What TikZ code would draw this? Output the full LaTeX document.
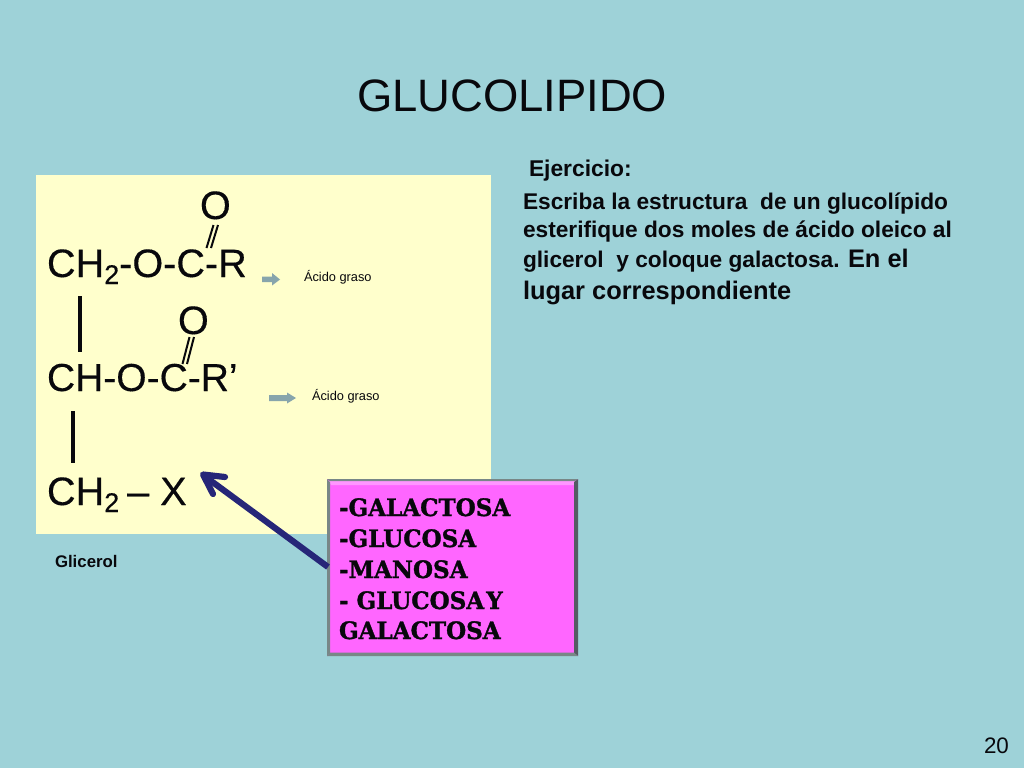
\documentclass[tikz,border=0pt]{standalone}
\usepackage{fontspec}
\setmainfont{Liberation Sans}
\newfontfamily\chemfont[FakeBold=0.35]{Liberation Sans}
\newfontfamily\slabfont[BoldFont={DejaVu Serif Bold},BoldFeatures={FakeStretch=0.96,FakeBold=1.3}]{DejaVu Serif}
\definecolor{bgteal}{RGB}{158,210,216}
\definecolor{cream}{RGB}{255,255,204}
\definecolor{pinkbox}{RGB}{255,102,255}
\definecolor{pinklight}{RGB}{255,150,255}
\definecolor{pinkdark}{RGB}{85,90,100}
\definecolor{pinkgrey}{RGB}{120,135,135}
\definecolor{navyarrow}{RGB}{38,38,120}
\definecolor{greyarrow}{RGB}{135,165,172}
\definecolor{inktext}{RGB}{8,8,12}
\tikzset{
  x=1pt,y=-1pt,
  txt/.style={anchor=base west,inner sep=0pt,outer sep=0pt,text=inktext},
  chem/.style={txt,font=\fontsize{39.6}{40}\selectfont\chemfont},
  tiny/.style={txt,font=\fontsize{12.8}{13}\selectfont},
  exer/.style={txt,font=\fontsize{22.7}{23}\selectfont\bfseries},
  big/.style={txt,font=\fontsize{25.4}{26}\selectfont\bfseries},
  sug/.style={txt,font=\fontsize{24}{24}\selectfont\slabfont\bfseries},
  bond/.style={line width=3.2pt,draw=inktext},
  minor/.style={line width=2pt,draw=inktext},
  grarrow/.style={draw=none,fill=greyarrow},
}
\newcommand{\subtwo}{\raisebox{-7pt}{\fontsize{27}{27}\selectfont 2}}
\begin{document}
\begin{tikzpicture}
\useasboundingbox (0,0) rectangle (1024,768);
\fill[bgteal] (0,0) rectangle (1024,768);
\fill[cream] (36,175) rectangle (491,534);
% title
\node[txt,font=\fontsize{45.4}{45}\selectfont] (title) at (357,111) {GLUCOLIPIDO};
% chem
\node[chem] (o1) at (200,219) {O};
\node[chem] (l1) at (47,277) {CH\subtwo-O-C-R};
\node[chem] (o2) at (178,334) {O};
\node[chem,font=\fontsize{39}{40}\selectfont\chemfont] (l2) at (47,391) {CH-O-C-R’};
\node[chem] (l3) at (47,505) {CH\subtwo\kern-3pt\ – X};
\coordinate (a1t) at (80,296); \coordinate (a1b) at (80,352);
\draw[bond] (a1t) -- (a1b);
\coordinate (a2t) at (73,411); \coordinate (a2b) at (73,463);
\draw[bond] (a2t) -- (a2b);
\coordinate (d1a) at (218,225); \coordinate (d1b) at (211,248);
\coordinate (d1c) at (213.5,225); \coordinate (d1d) at (206.5,248);
\draw[minor] (d1a) -- (d1b); \draw[minor] (d1c) -- (d1d);
\coordinate (d2a) at (194,337); \coordinate (d2b) at (187,364);
\coordinate (d2c) at (189.5,337); \coordinate (d2d) at (182.5,364);
\draw[minor] (d2a) -- (d2b); \draw[minor] (d2c) -- (d2d);
% grey arrows
\fill[grarrow] (262,276.5) -- (272,276.5) -- (272,273) -- (280,279.5) -- (272,285.5) -- (272,282) -- (262,282) -- cycle;
\fill[grarrow] (269,395) -- (287,395) -- (287,392.5) -- (296,398) -- (287,403.5) -- (287,401) -- (269,401) -- cycle;
\node[tiny] (ag1) at (304,281) {Ácido graso};
\node[tiny] (ag2) at (312,400) {Ácido graso};
\node[txt,font=\fontsize{16.8}{17}\selectfont\bfseries] (gl) at (55,567) {Glicerol};
% exercise
\node[txt,font=\fontsize{22.8}{23}\selectfont\bfseries] (ej) at (529,176) {Ejercicio:};
\node[exer] (e1) at (523,209) {Escriba la estructura\ \ de un glucolípido};
\node[exer] (e2) at (523,237) {esterifique dos moles de ácido oleico al};
\node[exer] (e3) at (523,267) {glicerol\ \ y coloque galactosa. {\fontsize{25.4}{26}\selectfont En el}};
\node[big] (e4) at (523,299) {lugar correspondiente};
% sugar box
\fill[pinkbox] (327,479) rectangle (578,656);
\fill[pinklight] (329,481) -- (576,481) -- (574,485) -- (331,485) -- cycle;
\fill[pinkdark] (578,479) -- (578,656) -- (574,653) -- (574,482) -- cycle;
\fill[pinkgrey] (327,656) -- (578,656) -- (574,652.5) -- (330,652.5) -- cycle;
\fill[pinkgrey] (327,479) -- (330,482) -- (330,653) -- (327,656) -- cycle;
\fill[pinkgrey] (327,479) -- (578,479) -- (575,481) -- (330,481) -- cycle;
\node[sug] (s1) at (339,516) {-GALACTOSA};
\node[sug] (s2) at (339,547) {-GLUCOSA};
\node[sug] (s3) at (339,578) {-MANOSA};
\node[sug] (s4) at (339,609) {- GLUCOSA\kern-6pt\ Y};
\node[sug] (s5) at (339,639) {GALACTOSA};
% navy arrow
\coordinate (nt) at (328,567); \coordinate (nh) at (203,475);
\draw[navyarrow,line width=6.2pt] (nt) -- (nh);
\draw[navyarrow,line width=6.2pt,line cap=round,line join=round] (225,477) -- (203,474.5) -- (213,494);
\node[txt,font=\fontsize{22.4}{22}\selectfont] (pg) at (984,753) {20};
\end{tikzpicture}
\end{document}
